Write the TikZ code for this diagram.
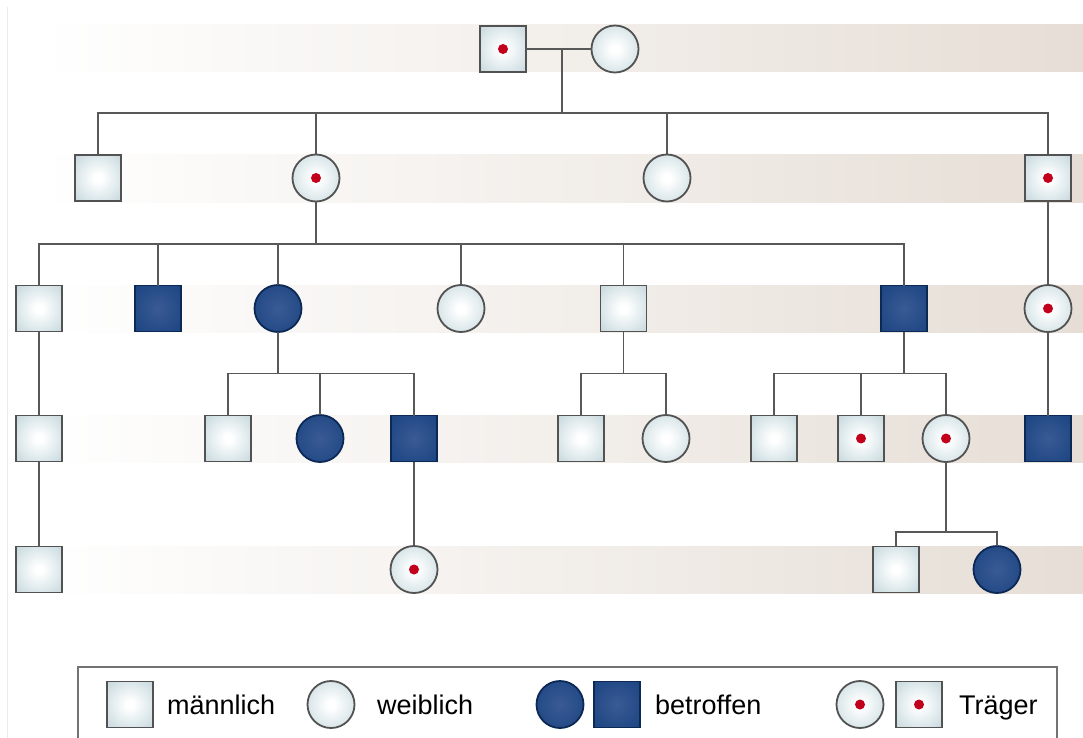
\documentclass[tikz,border=0pt]{standalone}
\usepackage{fontspec}
\setmainfont{Liberation Sans}
\usetikzlibrary{calc}
\definecolor{lightedge}{RGB}{172,196,203}
\definecolor{lightmid}{RGB}{222,233,236}
\definecolor{navyc}{RGB}{58,90,148}
\definecolor{navye}{RGB}{14,60,122}
\definecolor{navyline}{RGB}{12,40,85}
\definecolor{bandc}{RGB}{230,222,214}
\definecolor{dotred}{RGB}{195,0,28}
\definecolor{linec}{RGB}{88,88,88}
\pgfdeclareradialshading{lightshade}{\pgfpoint{0bp}{0bp}}{color(0bp)=(white); color(4bp)=(white); color(22bp)=(lightmid); color(50bp)=(lightedge); color(72bp)=(lightedge)}
\pgfdeclareradialshading{darkshade}{\pgfpoint{0bp}{0bp}}{color(0bp)=(navyc); color(50bp)=(navye); color(72bp)=(navye)}
\tikzset{
  pbase/.style={inner sep=0pt, outer sep=0pt, line width=1.8pt},
  male/.style={pbase, rectangle, minimum size=46pt, draw=black!68, shading=lightshade},
  female/.style={pbase, circle, minimum size=47pt, draw=black!68, shading=lightshade},
  affm/.style={pbase, rectangle, minimum size=46pt, draw=navyline, shading=darkshade},
  afff/.style={pbase, circle, minimum size=47pt, draw=navyline, shading=darkshade},
  carrier/.style={path picture={\fill[dotred] (path picture bounding box.center) circle (5pt);}},
  conn/.style={draw=linec, line width=1.6pt},
  band/.style={left color=white, right color=bandc},
  legtext/.style={anchor=base west, inner sep=0pt, font=\fontsize{27}{32}\selectfont}
}
\begin{document}
\begin{tikzpicture}[x=1pt, y=-1pt]
\useasboundingbox (0,0) rectangle (1083,738);
\fill[white] (0,0) rectangle (1083,738);
\draw[black!8, line width=1pt] (7,7) -- (7,738);
% bands
\shade[band] (40,25) rectangle (1083,72);
\shade[band] (40,155) rectangle (1083,202);
\shade[band] (40,285) rectangle (1083,332);
\shade[band] (40,415) rectangle (1083,462);
\shade[band] (40,546) rectangle (1083,593);
% generation 1
\node[male, carrier] (p1) at (503,49) {};
\node[female] (p2) at (615,49) {};
% generation 2
\node[male] (a1) at (98,178) {};
\node[female, carrier] (a2) at (316,178) {};
\node[female] (a3) at (667,178) {};
\node[male, carrier] (a4) at (1048,178) {};
% generation 3
\node[male] (b1) at (39,308.5) {};
\node[affm] (b2) at (158,308.5) {};
\node[afff] (b3) at (278,308.5) {};
\node[female] (b4) at (461,308.5) {};
\node[male] (b5) at (623.5,308.5) {};
\node[affm] (b6) at (904,308.5) {};
\node[female, carrier] (b7) at (1048,308.5) {};
% generation 4
\node[male] (c1) at (39,438.5) {};
\node[male] (c2) at (228,438.5) {};
\node[afff] (c3) at (320,438.5) {};
\node[affm] (c4) at (414,438.5) {};
\node[male] (c5) at (581,438.5) {};
\node[female] (c6) at (666,438.5) {};
\node[male] (c7) at (774,438.5) {};
\node[male, carrier] (c8) at (861,438.5) {};
\node[female, carrier] (c9) at (946,438.5) {};
\node[affm] (c10) at (1048,438.5) {};
% generation 5
\node[male] (d1) at (39,569.5) {};
\node[female, carrier] (d2) at (414,569.5) {};
\node[male] (d3) at (896,569.5) {};
\node[afff] (d4) at (997,569.5) {};
% connectors
\coordinate (m1) at (562,49);
\coordinate (s1) at (562,113);
\draw[conn] (p1) -- (p2);
\draw[conn] (m1) -- (s1);
\draw[conn] (a1.north) |- (s1) -| (a4.north);
\draw[conn] (a2.north) -- (a2.north |- s1);
\draw[conn] (a3.north) -- (a3.north |- s1);
\coordinate (s2) at (316,244);
\draw[conn] (a2.south) -- (s2);
\draw[conn] (b1.north) |- (s2) -| (b6.north);
\foreach \n in {b2,b3,b4,b5} \draw[conn] (\n.north) -- (\n.north |- s2);
\draw[conn] (a4) -- (b7);
\coordinate (s3) at (278,373.5);
\draw[conn] (b3.south) -- (s3);
\draw[conn] (c2.north) |- (s3) -| (c4.north);
\draw[conn] (c3.north) -- (c3.north |- s3);
\coordinate (s4) at (623.5,373.5);
\draw[conn] (b5.south) -- (s4);
\draw[conn] (c5.north) |- (s4) -| (c6.north);
\coordinate (s5) at (904,373.5);
\draw[conn] (b6.south) -- (s5);
\draw[conn] (c7.north) |- (s5) -| (c9.north);
\draw[conn] (c8.north) -- (c8.north |- s5);
\draw[conn] (b1) -- (c1);
\draw[conn] (c1) -- (d1);
\draw[conn] (c4) -- (d2);
\draw[conn] (b7) -- (c10);
\coordinate (s6) at (946,532);
\draw[conn] (c9.south) -- (s6);
\draw[conn] (d3.north) |- (s6) -| (d4.north);
% legend
\draw[black!55, line width=1.4pt] (78,745) -- (78,667) -- (1057,667) -- (1057,745);
\node[male] (l1) at (130,704.5) {};
\node[legtext] (t1) at (167,714) {männlich};
\node[female] (l2) at (331,704.5) {};
\node[legtext] (t2) at (377,714) {weiblich};
\node[afff] (l3) at (560,704.5) {};
\node[affm] (l4) at (617,704.5) {};
\node[legtext] (t3) at (655,714) {betroffen};
\node[female, carrier] (l5) at (860,704.5) {};
\node[male, carrier] (l6) at (919,704.5) {};
\node[legtext] (t4) at (959,714) {Träger};
\end{tikzpicture}
\end{document}
